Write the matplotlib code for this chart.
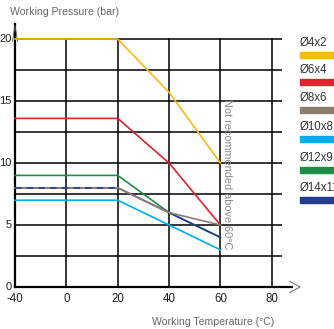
import matplotlib
matplotlib.use("Agg")
import matplotlib.pyplot as plt
from matplotlib.patches import Rectangle

plt.rcParams['font.family'] = ['Liberation Sans', 'DejaVu Sans']

temps = [-40, 20, 40, 60]
labels = ["Ø4x2", "Ø6x4", "Ø8x6", "Ø10x8", "Ø12x9", "Ø14x11"]
p_4x2 = [20, 20, 15.7, 10]
p_6x4 = [13.6, 13.6, 10, 5]
p_8x6 = [8, 8, 6, 5]
p_10x8 = [7, 7, 5, 3]
p_12x9 = [9, 9, 6, 4]
p_14x11 = [8, 8, 6, 4]
colors = ["#FDB813", "#D9262C", "#8C7D6E", "#00AEEF", "#1B8E45", "#233D8E"]
x_ticks = [-40, 0, 20, 40, 60, 80]
y_ticks = [0, 5, 10, 15, 20]


def pos(t):
    # the -40..0 span is squeezed into one 20-degree cell
    return t / 2 if t < 0 else t


W, H = 334, 329
fig = plt.figure(figsize=(W / 100, H / 100), dpi=100)
ax = fig.add_axes([15 / W, 42 / H, 267 / W, 21 * 12.4 / H])
ax.set_xlim(-20, 84)
ax.set_ylim(0, 21)
ax.axis("off")

# grid
for yv in [2.5 * i for i in range(1, 9)]:
    ax.plot([-20, 84], [yv, yv], color="black", lw=1.1, zorder=1)
for t in x_ticks[1:]:
    ax.plot([pos(t), pos(t)], [0, 20], color="black", lw=1.1, zorder=1)

# axes with arrows
ax.plot([-20, -20], [0, 21.2], color="black", lw=1.6, clip_on=False, zorder=2)
ax.plot([-20, 88], [0, 0], color="black", lw=1.6, clip_on=False, zorder=2)
ax.plot([-21, -20, -19], [19.8, 21.1, 19.8], color="#555555", lw=0.6, clip_on=False)
ax.plot([87, 91, 87], [0.45, 0, -0.45], color="#555555", lw=0.6, clip_on=False)

xs = [pos(t) for t in temps]
series = [p_4x2, p_6x4, p_12x9, p_14x11, p_8x6, p_10x8]
order = [0, 1, 4, 5, 2, 3]
for s, i in zip(series, order):
    ax.plot(xs, s, color=colors[i], lw=1.2, zorder=3, clip_on=False)
# gray and navy overlap on the flat part, giving a dashed look
ax.plot(xs[:2], p_14x11[:2], color=colors[5], lw=1.2, zorder=4, dashes=(4, 3))

for t in x_ticks:
    ax.text(pos(t), -1.0, str(t), ha="center", va="center", fontsize=8.3, color="#222222")
for v in y_ticks:
    ax.text(-21.4, v, str(v), ha="right", va="center", fontsize=8, color="#222222")

ax.text(62.4, 9.1, "Not recommended above 60°C", rotation=270, ha="center", va="center",
        fontsize=7.8, color="#8a8a8a")

fig.text(10 / W, 1 - 12 / H, "Working Pressure (bar)", ha="left", va="center",
         fontsize=7.6, color="#666666")
fig.text(213 / W, 1 - 322 / H, "Working Temperature (°C)", ha="center", va="center",
         fontsize=7.6, color="#666666")

# legend
label_y = [43, 70, 98, 127, 158, 188]
for lab, c, ly in zip(labels, colors, label_y):
    fig.text(300 / W, 1 - ly / H, lab, ha="left", va="center", fontsize=8.3, color="#333333")
    fig.patches.append(Rectangle((300 / W, 1 - (ly + 15) / H), 40 / W, 6 / H,
                                 transform=fig.transFigure, color=c, figure=fig))

fig.savefig("out.png", dpi=100)
